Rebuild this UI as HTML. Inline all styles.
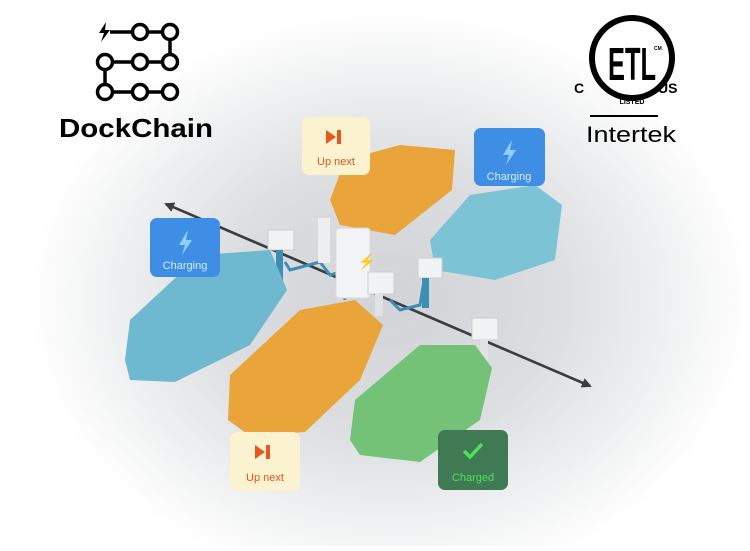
<!DOCTYPE html>
<html><head><meta charset="utf-8"><style>
html,body{margin:0;padding:0;background:#fff}
body{width:750px;height:546px;overflow:hidden;font-family:"Liberation Sans",sans-serif}
</style></head><body>
<svg width="750" height="546" viewBox="0 0 750 546" xmlns="http://www.w3.org/2000/svg">
<defs>
<radialGradient id="bg" cx="390" cy="300" r="360" gradientUnits="userSpaceOnUse" gradientTransform="translate(390 300) scale(1 0.8) translate(-390 -300)">
<stop offset="0" stop-color="#d2d3d6"/><stop offset="0.45" stop-color="#dcdde0"/><stop offset="0.75" stop-color="#eeeff0"/><stop offset="1" stop-color="#ffffff"/></radialGradient>
<marker id="ar" markerWidth="10" markerHeight="10" refX="8" refY="5" orient="auto" markerUnits="userSpaceOnUse"><path d="M0,0 L10,5 L0,10 Z" fill="#3a3d42"/></marker>
</defs>
<rect width="750" height="546" fill="url(#bg)"/>
<line x1="590" y1="386" x2="166" y2="204" stroke="#3a3d42" stroke-width="2.5" marker-end="url(#ar)"/>
<line x1="166" y1="204" x2="590" y2="386" stroke="#3a3d42" stroke-width="2.5" marker-end="url(#ar)"/>
<path d="M285,262 L290,270 L320,262 L330,275 L340,272 L345,300 M390,300 L400,310 L420,305 L425,275" stroke="#3b8fb5" stroke-width="3" fill="none"/>
<polygon points="330,200 345,160 400,145 455,150 452,190 395,235 340,225" fill="#e9a43a"/>
<polygon points="430,240 470,195 535,185 562,205 555,260 495,280 435,270" fill="#7cc3d6"/>
<rect x="336" y="228" width="34" height="70" rx="3" fill="#f2f3f5" stroke="#d7d9dc"/>
<text x="358" y="266" font-size="14" fill="#bbb">⚡</text>
<rect x="318" y="218" width="12" height="45" fill="#eceef0"/>
<rect x="268" y="230" width="26" height="20" fill="#f1f2f4" stroke="#ccc"/>
<rect x="276" y="250" width="7" height="30" fill="#3b8fb5"/>
<rect x="368" y="272" width="26" height="22" fill="#f1f2f4" stroke="#ccc"/>
<rect x="375" y="294" width="8" height="22" fill="#e0e2e4"/>
<rect x="418" y="258" width="24" height="20" fill="#f1f2f4" stroke="#ccc"/>
<rect x="422" y="278" width="7" height="30" fill="#3b8fb5"/>
<rect x="472" y="318" width="26" height="22" fill="#f1f2f4" stroke="#ccc"/>
<rect x="480" y="340" width="8" height="20" fill="#e0e2e4"/>
<polygon points="125,360 130,320 200,255 270,250 287,290 250,345 175,382 130,380" fill="#6fb9d0"/>
<polygon points="228,420 230,375 300,310 355,300 383,325 360,380 305,432 250,436" fill="#e9a43a"/>
<polygon points="350,440 355,400 420,345 475,345 492,368 480,420 420,462 360,455" fill="#73c277"/>
<rect x="302" y="117" width="68" height="58" rx="7" fill="#fbf2cf"/>
<path d="M326,130 L336,137 L326,144 Z M337,130 h4 v14 h-4 Z" fill="#e8571e"/>
<text x="336" y="165" font-size="11" fill="#e0541c" text-anchor="middle">Up next</text>
<rect x="230" y="432" width="70" height="59" rx="7" fill="#fbf2cf"/>
<path d="M255,445 L265,452 L255,459 Z M266,445 h4 v14 h-4 Z" fill="#e8571e"/>
<text x="265" y="481" font-size="11" fill="#e0541c" text-anchor="middle">Up next</text>
<rect x="474" y="128" width="71" height="58" rx="7" fill="#3d8ee4"/>
<path d="M512,140 L503,155 L509,155 L506,165 L516,150 L510,150 Z" fill="#8fd0ff"/>
<text x="509" y="180" font-size="11" fill="#d8ecff" text-anchor="middle">Charging</text>
<rect x="150" y="218" width="70" height="59" rx="7" fill="#3d8ee4"/>
<path d="M188,230 L179,245 L185,245 L182,255 L192,240 L186,240 Z" fill="#8fd0ff"/>
<text x="185" y="269" font-size="11" fill="#d8ecff" text-anchor="middle">Charging</text>
<rect x="438" y="430" width="70" height="60" rx="7" fill="#3f7a55"/>
<path d="M464,451 L470,457 L482,444" stroke="#4fe05a" stroke-width="3.5" fill="none"/>
<text x="473" y="481" font-size="11" fill="#4fe05a" text-anchor="middle">Charged</text>
<g stroke="#000" stroke-width="3.5" fill="#fff">
<path d="M110,32 H170 V62 H105 V92 H170" fill="none"/>
<circle cx="140" cy="32" r="7.5"/><circle cx="170" cy="32" r="7.5"/>
<circle cx="105" cy="62" r="7.5"/><circle cx="140" cy="62" r="7.5"/><circle cx="170" cy="62" r="7.5"/>
<circle cx="105" cy="92" r="7.5"/><circle cx="140" cy="92" r="7.5"/><circle cx="170" cy="92" r="7.5"/>
</g>
<path d="M106,22 L99,33 L104,33 L101,42 L110,30 L105,30 Z" fill="#000"/>
<text x="59" y="137" font-size="26" font-weight="bold" fill="#000" textLength="154" lengthAdjust="spacingAndGlyphs">DockChain</text>
<circle cx="632" cy="58" r="40" fill="#fff" stroke="#000" stroke-width="6"/>
<text x="632" y="80" font-size="46" font-weight="bold" text-anchor="middle" fill="#000" textLength="48" lengthAdjust="spacingAndGlyphs">ETL</text>
<text x="654" y="50" font-size="5" font-weight="bold" fill="#000">CM</text>
<text x="632" y="104" font-size="7" font-weight="bold" text-anchor="middle" fill="#000">LISTED</text>
<text x="574" y="93" font-size="14" font-weight="bold" fill="#000">C</text>
<text x="658" y="93" font-size="14" font-weight="bold" fill="#000">US</text>
<rect x="590" y="115" width="68" height="2" fill="#000"/>
<text x="586" y="142" font-size="22" fill="#000" textLength="90" lengthAdjust="spacingAndGlyphs">Intertek</text>
</svg>
</body></html>
